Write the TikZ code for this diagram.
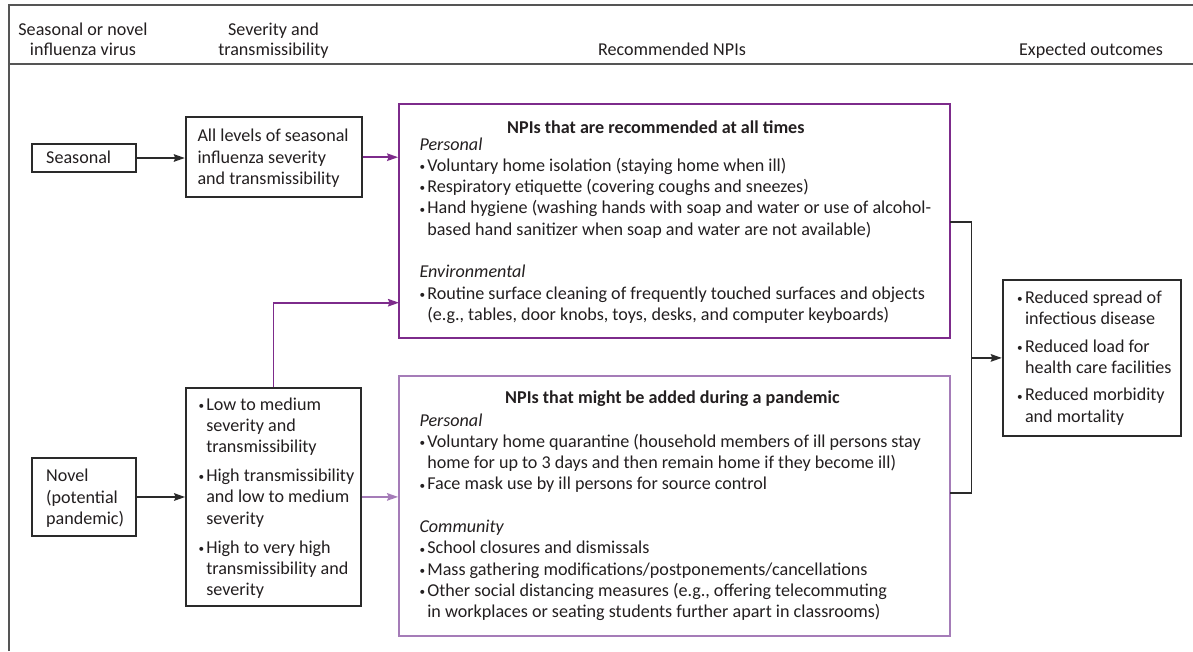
\documentclass[tikz,border=0pt]{standalone}
\usepackage{fontspec}
\usepackage{graphicx}
\setmainfont{Carlito}
\usetikzlibrary{arrows.meta,positioning,calc}
\definecolor{txt}{HTML}{231F20}
\definecolor{frameg}{HTML}{555555}
\definecolor{boxk}{HTML}{2A2A2A}
\definecolor{pdark}{HTML}{7D2B8B}
\definecolor{plight}{HTML}{A57CB8}
\newlength{\bw}\setlength{\bw}{7.8pt}
\newcommand{\bul}{\makebox[\bw][l]{\raisebox{.04em}{\scalebox{.62}{\textbullet}}}}
\newcommand{\ind}{\hspace*{\bw}}
\begin{document}
\begin{tikzpicture}[x=1pt,y=-1pt,
  every node/.style={text=txt},
  txtf/.style={font=\fontsize{18.1}{21.3}\selectfont, inner sep=0pt, anchor=base west},
  hdr/.style={font=\fontsize{18.1}{20}\selectfont, inner sep=0pt, anchor=base},
  kbox/.style={draw=boxk, line width=1.8pt, rectangle, inner sep=0pt},
  pbox/.style={draw=pdark, line width=1.8pt, rectangle, inner sep=0pt},
  lbox/.style={draw=plight, line width=1.8pt, rectangle, inner sep=0pt},
  karrow/.style={draw=boxk, line width=1.8pt, -{Stealth[length=11pt,width=7.5pt,inset=1.5pt]}},
  parrow/.style={draw=pdark, line width=1.8pt, -{Stealth[length=11pt,width=7.5pt,inset=1.5pt]}},
  larrow/.style={draw=plight, line width=1.8pt, -{Stealth[length=11pt,width=7.5pt,inset=1.5pt]}},
  kline/.style={draw=boxk, line width=1.8pt}
]
\useasboundingbox (0,0) rectangle (1193,651);
\fill[white] (0,0) rectangle (1193,651);

% frame
\draw[frameg, line width=2pt] (9,651) -- (9,5.3) -- (1193,5.3);
\draw[frameg, line width=2pt] (9,63.5) -- (1193,63.5);

% headers
\node[hdr] (h1) at (83,35) {\parbox[t]{160pt}{\centering Seasonal or novel\\influenza virus}};
\node[hdr] (h2) at (273.5,35) {\parbox[t]{160pt}{\centering Severity and\\transmissibility}};
\node[hdr] (h3) at (672,55) {Recommended NPIs};
\node[hdr] (h4) at (1091,55) {Expected outcomes};

% boxes
\node[kbox, minimum width=104pt, minimum height=28pt] (seas) at (84,158) {};
\node[kbox, minimum width=176pt, minimum height=79.7pt] (all) at (273.7,157.2) {};
\node[pbox, minimum width=551pt, minimum height=234.3pt] (top) at (674.5,221.2) {};
\node[kbox, minimum width=104pt, minimum height=78pt] (novel) at (84,497) {};
\node[kbox, minimum width=175pt, minimum height=218.3pt] (low) at (273.5,496.9) {};
\node[lbox, minimum width=551pt, minimum height=259.7pt] (bot) at (674.5,505.9) {};
\node[kbox, minimum width=178pt, minimum height=155.7pt] (out) at (1091.7,357.9) {};

% texts
\node[txtf] (tseas) at (46,163) {Seasonal};
\node[txtf] (tall) at (197.3,141.7) {\parbox[t]{170pt}{All levels of seasonal\\influenza severity\\and transmissibility}};
\node[txtf] (ttoptitle) at (507,133.3) {\bfseries NPIs that are recommended at all times};
\node[txtf] (ttop) at (419.3,150) {\parbox[t]{530pt}{%
\textit{Personal}\\
\bul Voluntary home isolation (staying home when ill)\\
\bul Respiratory etiquette (covering coughs and sneezes)\\
\bul Hand hygiene (washing hands with soap and water or use of alcohol-\\
\ind based hand sanitizer when soap and water are not available)\\[21.3pt]
\textit{Environmental}\\
\bul Routine surface cleaning of frequently touched surfaces and objects\\
\ind (e.g., tables, door knobs, toys, desks, and computer keyboards)}};
\node[txtf] (tbottitle) at (505,403.3) {\bfseries NPIs that might be added during a pandemic};
\node[txtf] (tbot) at (419.3,426) {\parbox[t]{530pt}{%
\textit{Personal}\\
\bul Voluntary home quarantine (household members of ill persons stay\\
\ind home for up to 3 days and then remain home if they become ill)\\
\bul Face mask use by ill persons for source control\\[21.3pt]
\textit{Community}\\
\bul School closures and dismissals\\
\bul Mass gathering modifications/postponements/cancellations\\
\bul Other social distancing measures (e.g., offering telecommuting\\
\ind in workplaces or seating students further apart in classrooms)}};
\node[txtf] (tnovel) at (46,481.7) {\parbox[t]{90pt}{Novel\\(potential\\pandemic)}};
\node[txtf] (tlow) at (198.3,410) {\parbox[t]{165pt}{%
\bul Low to medium\\
\ind severity and\\
\ind transmissibility\\[7.7pt]
\bul High transmissibility\\
\ind and low to medium\\
\ind severity\\[7.7pt]
\bul High to very high\\
\ind transmissibility and\\
\ind severity}};
\node[txtf] (tout) at (1017,303.3) {\parbox[t]{165pt}{%
\bul Reduced spread of\\
\ind infectious disease\\[6.2pt]
\bul Reduced load for\\
\ind health care facilities\\[6.2pt]
\bul Reduced morbidity\\
\ind and mortality}};

% connectors
\draw[karrow] (seas.east) -- (seas.east -| all.west);
\draw[parrow] (all.east) -- (all.east -| top.west);
\draw[karrow] (novel.east) -- (novel.east -| low.west);
\draw[larrow] (low.east) -- (low.east -| bot.west);
\coordinate (envin) at (399,302.7);
\draw[parrow] (low.north) |- (envin);
\coordinate (bt) at (950,222);
\coordinate (bb) at (950,493);
\coordinate (bx) at (971.5,357.9);
\draw[kline] (bt) -| (bx) |- (bb);
\draw[karrow] (bx) -- (out.west);
\end{tikzpicture}
\end{document}
